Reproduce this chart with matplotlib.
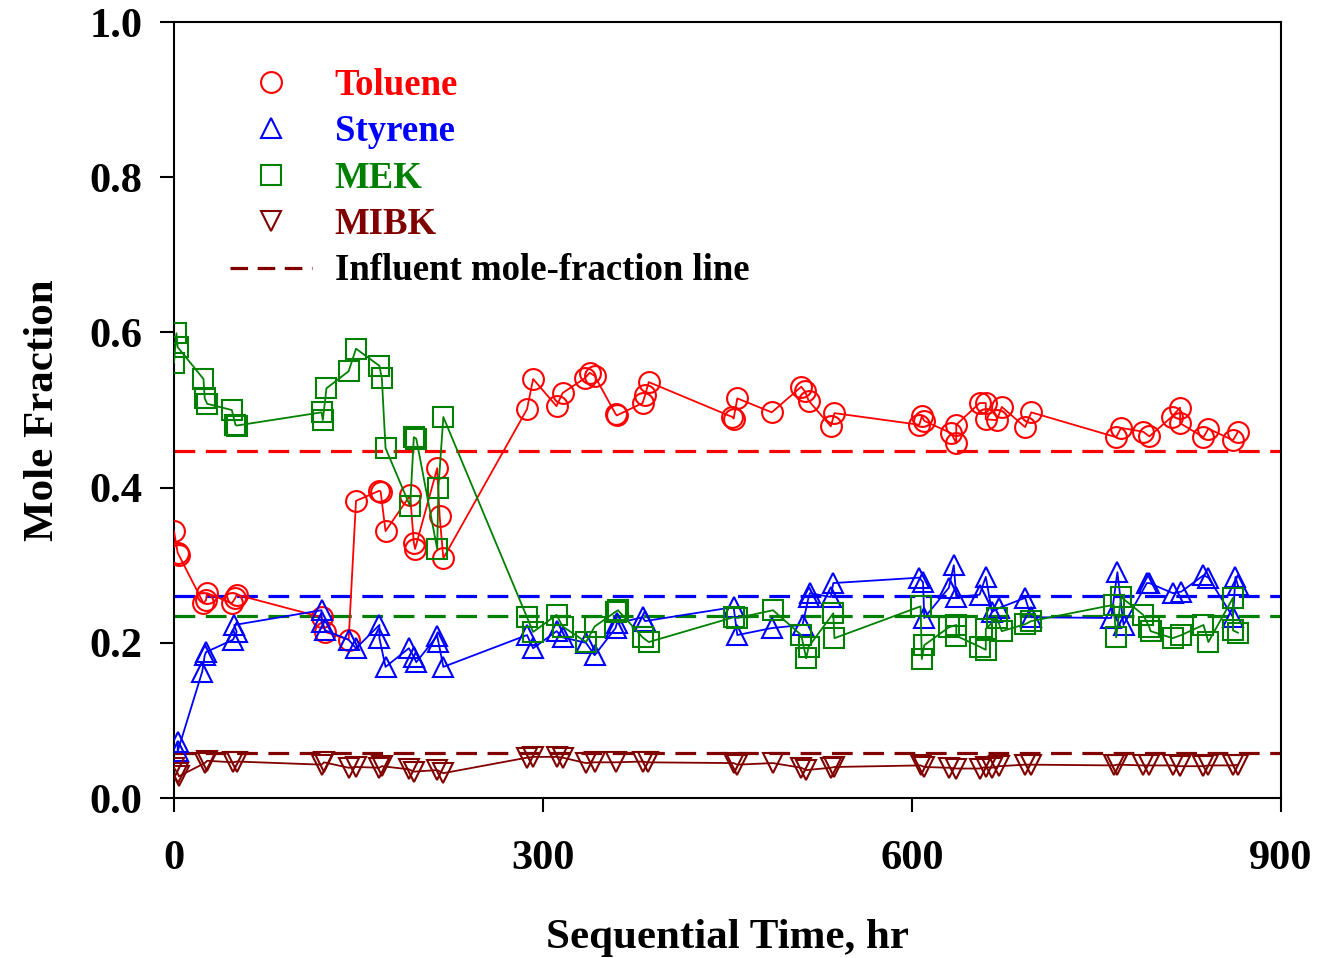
#!/usr/bin/env python3
"""Effluent mole fractions of the four VOCs vs sequential time."""
import matplotlib
matplotlib.use("Agg")
import matplotlib.pyplot as plt
from matplotlib.lines import Line2D

plt.rcParams["font.family"] = ["Liberation Serif", "DejaVu Serif"]
plt.rcParams["font.weight"] = "bold"

# --- data ---
tol_t = [0, 3, 4, 24, 26, 27, 47, 50, 51, 120, 123, 142, 148, 167, 168, 172,
         192, 195, 196, 214, 216, 219, 287, 292, 311, 316, 334, 338, 342, 359,
         360, 381, 383, 386, 454, 455, 458, 486, 510, 513, 516, 534, 537, 606,
         608, 610, 632, 636, 636, 655, 660, 660, 669, 673, 692, 697, 766, 770,
         788, 793, 811, 818, 818, 837, 841, 861, 865]
tol_y = [0.344, 0.316, 0.313, 0.251, 0.255, 0.264, 0.251, 0.258, 0.262, 0.233,
         0.214, 0.204, 0.383, 0.396, 0.395, 0.344, 0.390, 0.329, 0.321, 0.425,
         0.363, 0.309, 0.501, 0.540, 0.505, 0.522, 0.541, 0.548, 0.544, 0.495,
         0.493, 0.509, 0.519, 0.536, 0.491, 0.489, 0.515, 0.497, 0.530, 0.524,
         0.512, 0.479, 0.496, 0.481, 0.492, 0.486, 0.470, 0.457, 0.481, 0.509,
         0.509, 0.488, 0.487, 0.504, 0.478, 0.497, 0.465, 0.477, 0.472, 0.466,
         0.491, 0.503, 0.483, 0.465, 0.476, 0.461, 0.472]

sty_t = [3, 3, 23, 25, 26, 48, 51, 49, 120, 120, 123, 142, 148, 167, 167, 172,
         191, 195, 197, 214, 215, 219, 287, 292, 311, 316, 335, 342, 359, 360,
         381, 383, 455, 458, 486, 511, 516, 517, 534, 536, 606, 609, 610, 630,
         634, 636, 655, 660, 665, 671, 692, 697, 762, 767, 772, 791, 793, 812,
         819, 837, 841, 861, 863, 865]
sty_y = [0.072, 0.060, 0.163, 0.184, 0.188, 0.204, 0.214, 0.223, 0.242, 0.227,
         0.216, 0.204, 0.193, 0.223, 0.206, 0.169, 0.193, 0.182, 0.175, 0.209,
         0.201, 0.169, 0.210, 0.193, 0.215, 0.207, 0.200, 0.184, 0.219, 0.225,
         0.233, 0.228, 0.246, 0.210, 0.219, 0.223, 0.259, 0.264, 0.259, 0.277,
         0.284, 0.278, 0.232, 0.271, 0.300, 0.259, 0.262, 0.285, 0.240, 0.245,
         0.258, 0.233, 0.232, 0.291, 0.223, 0.277, 0.277, 0.264, 0.266, 0.287,
         0.284, 0.233, 0.285, 0.274]

mek_t = [0, 2, 3, 24, 25, 27, 47, 50, 51, 120, 121, 124, 142, 148, 167, 169,
         172, 192, 195, 197, 214, 215, 219, 287, 292, 311, 316, 335, 342, 359,
         361, 381, 386, 455, 458, 487, 510, 514, 516, 536, 537, 607, 608, 610,
         630, 636, 636, 655, 660, 660, 669, 673, 692, 697, 764, 766, 770, 788,
         793, 794, 812, 819, 837, 841, 861, 861, 865]
mek_y = [0.561, 0.599, 0.581, 0.540, 0.515, 0.508, 0.500, 0.481, 0.480, 0.497,
         0.487, 0.528, 0.550, 0.579, 0.557, 0.541, 0.451, 0.376, 0.465, 0.463,
         0.321, 0.400, 0.491, 0.233, 0.214, 0.236, 0.221, 0.201, 0.221, 0.240,
         0.242, 0.207, 0.201, 0.233, 0.232, 0.242, 0.210, 0.180, 0.195, 0.238,
         0.206, 0.247, 0.179, 0.197, 0.220, 0.223, 0.209, 0.195, 0.191, 0.218,
         0.232, 0.215, 0.224, 0.228, 0.249, 0.207, 0.259, 0.236, 0.220, 0.215,
         0.206, 0.210, 0.223, 0.201, 0.258, 0.216, 0.213]

mibk_t = [0, 3, 4, 25, 27, 48, 51, 120, 122, 142, 148, 167, 169, 191, 195, 214,
          219, 287, 292, 311, 316, 335, 342, 359, 381, 385, 455, 458, 487, 510,
          514, 534, 537, 607, 610, 630, 636, 655, 660, 665, 671, 692, 697, 764,
          767, 788, 793, 812, 818, 837, 841, 861, 865]
mibk_y = [0.039, 0.032, 0.028, 0.045, 0.048, 0.046, 0.047, 0.043, 0.046, 0.039,
          0.040, 0.039, 0.041, 0.037, 0.034, 0.036, 0.032, 0.052, 0.053, 0.053,
          0.052, 0.045, 0.046, 0.046, 0.047, 0.046, 0.045, 0.043, 0.045, 0.039,
          0.036, 0.039, 0.040, 0.042, 0.040, 0.039, 0.038, 0.038, 0.040, 0.039,
          0.041, 0.043, 0.043, 0.042, 0.043, 0.042, 0.042, 0.042, 0.041, 0.041,
          0.042, 0.042, 0.043]

# influent mole fractions (dashed reference lines)
influent = {"Toluene": 0.447, "Styrene": 0.260, "MEK": 0.235, "MIBK": 0.058}

names = ["Toluene", "Styrene", "MEK", "MIBK"]
colors = {"Toluene": "#ff0000", "Styrene": "#0000ff", "MEK": "#008000", "MIBK": "#800000"}
markers = {"Toluene": "o", "Styrene": "^", "MEK": "s", "MIBK": "v"}
series = {"Toluene": (tol_t, tol_y), "Styrene": (sty_t, sty_y),
          "MEK": (mek_t, mek_y), "MIBK": (mibk_t, mibk_y)}

MS = 15
fig = plt.figure(figsize=(13.21, 9.58), dpi=100)
ax = fig.add_axes([0.1317, 0.167, 0.838, 0.810])

for name in names:
    t, y = series[name]
    ax.plot(t, y, color=colors[name], lw=1.3, marker=markers[name], ms=MS,
            mfc="none", mec=colors[name], mew=1.5, zorder=3)
    ax.axhline(influent[name], color=colors[name], lw=2.3, ls="--",
               dashes=(6.5, 3.3), zorder=2)

ax.set_xlim(0, 900)
ax.set_ylim(0, 1.0)
ax.set_xticks([0, 300, 600, 900])
ax.set_yticks([0.0, 0.2, 0.4, 0.6, 0.8, 1.0])
ax.set_yticklabels(["0.0", "0.2", "0.4", "0.6", "0.8", "1.0"])
ax.tick_params(axis="both", direction="out", length=10, width=1.5, labelsize=30.5)
ax.tick_params(axis="x", pad=20)
ax.tick_params(axis="y", pad=12.5)
for sp in ax.spines.values():
    sp.set_linewidth(1.5)

ax.set_xlabel("Sequential Time, hr", fontsize=31, fontweight="bold", labelpad=30)
ax.set_ylabel("Mole Fraction", fontsize=31, fontweight="bold", labelpad=20)

# legend
handles = [Line2D([], [], ls="none", marker=markers[n], ms=MS, mfc="none",
                  mec=colors[n], mew=1.5) for n in names]
handles.append(Line2D([], [], color="#800000", lw=2.3, ls="--", dashes=(5.5, 3.0)))
labels = names + ["Influent mole-fraction line"]
leg = ax.legend(handles, labels, loc="upper left", bbox_to_anchor=(0.037, 0.960),
                frameon=False, fontsize=26.5, handlelength=2.25, handletextpad=0.6,
                labelspacing=0.31, borderaxespad=0)
for txt, n in zip(leg.get_texts(), names + ["Influent"]):
    txt.set_color(colors.get(n, "black"))
    txt.set_fontweight("bold")

fig.savefig("out.png", dpi=100)
